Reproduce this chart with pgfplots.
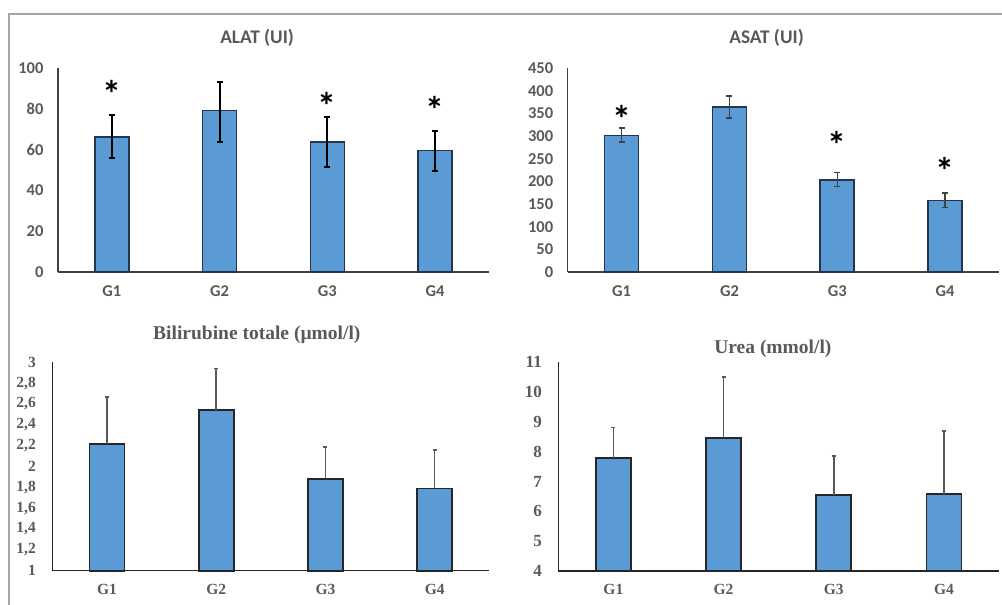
\documentclass[border=0pt]{standalone}
\usepackage{fontspec}
\setmainfont{Carlito}
\newfontfamily\seriffont{Liberation Serif}
\usepackage{pgfplots}
\usepackage{pgfplotstable}
\pgfplotsset{compat=1.18}
\definecolor{barblue}{HTML}{5B9BD5}
\definecolor{baredge}{HTML}{26354F}
\definecolor{txtgray}{HTML}{595959}
\definecolor{framegray}{HTML}{A6A6A6}

\pgfplotstableread{
x y ep em
1 66.3 10.5 10.3
2 79.1 14.2 15.2
3 63.7 12.4 12.1
4 59.6 9.4 9.9
}\alat
\pgfplotstableread{
x y ep em
1 301 17 14.5
2 364.5 23.5 24.5
3 202.5 16.5 13.5
4 157.5 17 15.5
}\asat
\pgfplotstableread{
x y ep
1 2.216 0.45
2 2.542 0.40
3 1.877 0.31
4 1.79 0.37
}\bili
\pgfplotstableread{
x y ep
1 7.79 1.02
2 8.45 2.06
3 6.55 1.31
4 6.58 2.12
}\urea

\pgfplotsset{
  panel/.style={
    scale only axis, anchor=south west,
    axis x line*=bottom, axis y line*=left,
    xmin=0.5, xmax=4.5, xtick={1,2,3,4}, xticklabels={G1,G2,G3,G4},
    major tick length=0pt,
    clip=false,
    /pgf/number format/assume math mode=true,
    /pgf/number format/1000 sep={},
    ticklabel style={text=txtgray},
    yticklabel style={xshift=-11pt},
    xticklabel style={yshift=-10pt},
    title style={anchor=center, text=txtgray},
  },
  toppanel/.style={
    panel,
    axis line style={-, line width=1.4pt, color=black!75},
    ticklabel style={font=\fontsize{16.5}{18}\selectfont\bfseries},
    title style={font=\fontsize{19.3}{22}\selectfont\bfseries},
  },
  botpanel/.style={
    panel,
    axis line style={-, line width=1.4pt, color=black!85},
    xticklabel style={font=\seriffont\fontsize{15.5}{17}\selectfont\bfseries},
    title style={font=\seriffont\fontsize{19.5}{22}\selectfont\bfseries},
  },
  bars/.style={ybar, bar width=34pt, fill=barblue, draw=baredge, line width=1.6pt},
}

\begin{document}
\begin{tikzpicture}[x=1pt,y=1pt]
\useasboundingbox (0,0) rectangle (1002,605);
\draw[framegray, line width=2pt] (9,0) -- (9,591) -- (1002,591);

% ALAT
\begin{axis}[toppanel, at={(58pt,333pt)}, width=431pt, height=204pt,
  ymin=0, ymax=100, ytick={0,20,...,100},
  title={ALAT (UI)}, title style={at={(0.462,1)}, yshift=24pt}]
\addplot[bars, error bars/.cd, y dir=both, y explicit,
  error bar style={black, line width=1.8pt},
  error mark options={rotate=90, black, line width=1.8pt, mark size=3pt}]
  table[x=x, y=y, y error plus=ep, y error minus=em] {\alat};
\addplot[only marks, mark=text, text mark={\color{black}\fontsize{38}{38}\selectfont\bfseries *}]
  coordinates {(1,87.5) (3,81.5) (4,79.5)};
\end{axis}

% ASAT
\begin{axis}[toppanel, at={(567.7pt,333pt)}, width=431.3pt, height=204pt,
  ymin=0, ymax=450, ytick={0,50,...,450},
  title={ASAT (UI)}, title style={at={(0.461,1)}, yshift=24pt}]
\addplot[bars, error bars/.cd, y dir=both, y explicit,
  error bar style={black!75, line width=1.5pt},
  error mark options={rotate=90, black!75, line width=1.5pt, mark size=3pt}]
  table[x=x, y=y, y error plus=ep, y error minus=em] {\asat};
\addplot[only marks, mark=text, text mark={\color{black}\fontsize{38}{38}\selectfont\bfseries *}]
  coordinates {(1,337) (3,280) (4,224)};
\end{axis}

% Bilirubine
\begin{axis}[botpanel, at={(52.3pt,34.3pt)}, width=437pt, height=208.4pt,
  ymin=1, ymax=3, ytick={1,1.2,...,3.01},
  yticklabel style={font=\seriffont\fontsize{15.5}{17}\selectfont\bfseries, xshift=-2pt},
  yticklabel={\pgfmathprintnumber[fixed, precision=1, use comma]{\tick}},
  title={Bilirubine totale (µmol/l)}, title style={at={(0.468,1)}, yshift=21pt}]
\addplot[bars, bar width=35pt, draw=black!85, line width=1.7pt, error bars/.cd, y dir=plus, y explicit,
  error bar style={txtgray, line width=1.6pt},
  error mark options={rotate=90, txtgray, line width=1.6pt, mark size=2pt}]
  table[x=x, y=y, y error plus=ep] {\bili};
\end{axis}

% Urea
\begin{axis}[botpanel, at={(558.3pt,34pt)}, width=440.7pt, height=208.7pt,
  ymin=4, ymax=11, ytick={4,5,...,11},
  yticklabel style={font=\seriffont\fontsize{17}{19}\selectfont\bfseries, xshift=-2pt},
  title={Urea (mmol/l)}, title style={at={(0.487,1)}, yshift=7pt}]
\addplot[bars, bar width=35pt, draw=black!85, line width=1.7pt, error bars/.cd, y dir=plus, y explicit,
  error bar style={txtgray, line width=1.6pt},
  error mark options={rotate=90, txtgray, line width=1.6pt, mark size=2pt}]
  table[x=x, y=y, y error plus=ep] {\urea};
\end{axis}
\end{tikzpicture}
\end{document}
